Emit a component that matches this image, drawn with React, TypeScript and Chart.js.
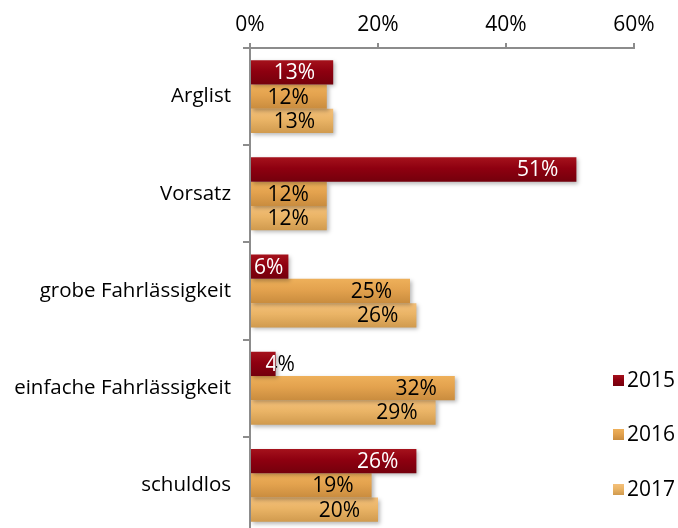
import React, { useEffect, useRef } from "react";
import { Chart, registerables } from "chart.js";

Chart.register(...registerables);

const categories = ["Arglist", "Vorsatz", "grobe Fahrlässigkeit", "einfache Fahrlässigkeit", "schuldlos"];
const seriesNames = ["2015", "2016", "2017"];
const values2015 = [13, 51, 6, 4, 26];
const values2016 = [12, 12, 25, 32, 19];
const values2017 = [13, 12, 26, 29, 20];
const xTicks = [0, 20, 40, 60];

const FONT = "'Open Sans', 'Noto Sans', sans-serif";
const FS = 21;
const CAT_FS = 20.5;
const CAT_PCT = 0.75;

// [top, middle, bottom] colours of each series' gradient
const gradColors = [
  ["#a5121c", "#8e0010", "#74000c"],
  ["#eeb05a", "#e3a24e", "#c98c3e"],
  ["#f4c07a", "#eab466", "#d09a4e"],
];

function barGradient(ctx: CanvasRenderingContext2D, top: number, bottom: number, d: number) {
  const g = ctx.createLinearGradient(0, top, 0, bottom);
  g.addColorStop(0, gradColors[d][0]);
  g.addColorStop(0.45, gradColors[d][1]);
  g.addColorStop(1, gradColors[d][2]);
  return g;
}

const shadowPlugin = {
  id: "shadow",
  beforeDatasetsDraw(chart: any) {
    const c = chart.ctx;
    c.save();
    c.shadowColor = "rgba(0,0,0,0.28)";
    c.shadowBlur = 4;
    c.shadowOffsetX = 2;
    c.shadowOffsetY = 2;
  },
  afterDatasetsDraw(chart: any) {
    chart.ctx.restore();
  },
};

const labelPlugin = {
  id: "barLabels",
  afterDatasetsDraw(chart: any) {
    const c: CanvasRenderingContext2D = chart.ctx;
    const area = chart.chartArea;
    c.save();
    c.font = `${FS}px ${FONT}`;
    c.textBaseline = "middle";
    c.textAlign = "left";
    chart.data.datasets.forEach((ds: any, d: number) => {
      const meta = chart.getDatasetMeta(d);
      meta.data.forEach((bar: any, i: number) => {
        const text = ds.data[i] + "%";
        const w = c.measureText(text).width;
        const end = bar.x;
        const start = bar.base;
        const len = end - start;
        let left: number;
        if (w + 6 > len) left = end - 10;
        else left = Math.max(start + 3, end - 18 - w);
        const y = bar.y + 1;
        const top = bar.y - bar.height / 2;
        const h = bar.height;
        if (d === 0) {
          // white inside the bar, black outside
          c.save();
          c.beginPath();
          c.rect(start, top, len, h);
          c.clip();
          c.fillStyle = "#ffffff";
          c.fillText(text, left, y);
          c.restore();
          c.save();
          c.beginPath();
          c.rect(end, top - 5, area.right + 50 - end, h + 10);
          c.clip();
          c.fillStyle = "#000000";
          c.fillText(text, left, y);
          c.restore();
        } else {
          c.fillStyle = "#000000";
          c.fillText(text, left, y);
        }
      });
    });
    c.restore();
  },
};

const legendPlugin = {
  id: "sideLegend",
  afterDraw(chart: any) {
    const c: CanvasRenderingContext2D = chart.ctx;
    const ys = [380, 434, 489];
    c.save();
    c.font = `${FS}px ${FONT}`;
    c.textBaseline = "middle";
    c.textAlign = "left";
    seriesNames.forEach((name, d) => {
      const y = ys[d];
      c.fillStyle = barGradient(c, y - 5, y + 6, d);
      c.fillRect(613, y - 5, 11, 11);
      c.fillStyle = "#000";
      c.fillText(name, 627, y + 1);
    });
    c.restore();
  },
};

export default function App() {
  const ref = useRef<HTMLCanvasElement>(null);
  useEffect(() => {
    document.body.style.margin = "0";
    const canvas = ref.current!;
    const bg = (d: number) => (ctx: any) => {
      const chart = ctx.chart;
      const ys = chart.scales.y;
      const area = chart.chartArea;
      if (!ys || !area) return gradColors[d][1];
      const cat = (area.bottom - area.top) / categories.length;
      const th = (cat * CAT_PCT) / 3;
      const c = ys.getPixelForValue(ctx.dataIndex);
      const top = c - (cat * CAT_PCT) / 2 + d * th;
      return barGradient(chart.ctx, top, top + th, d);
    };
    const chart = new Chart(canvas, {
      type: "bar",
      data: {
        labels: categories,
        datasets: [
          { label: seriesNames[0], data: values2015, backgroundColor: bg(0) },
          { label: seriesNames[1], data: values2016, backgroundColor: bg(1) },
          { label: seriesNames[2], data: values2017, backgroundColor: bg(2) },
        ],
      },
      options: {
        indexAxis: "y",
        responsive: false,
        animation: false,
        datasets: { bar: { categoryPercentage: CAT_PCT, barPercentage: 1 } },
        layout: { padding: { top: 0, right: 44, bottom: 2, left: 0 } },
        plugins: { legend: { display: false }, tooltip: { enabled: false } },
        scales: {
          x: {
            position: "top",
            min: 0,
            max: 60,
            afterBuildTicks: (s: any) => {
              s.ticks = xTicks.map((v) => ({ value: v }));
            },
            afterFit: (s: any) => {
              s.height = 48;
              s.paddingLeft = 0;
              s.paddingRight = 0;
            },
            ticks: {
              callback: (v: any) => v + "%",
              font: { family: FONT, size: FS },
              color: "#000",
              padding: 5,
            },
            grid: { drawOnChartArea: false, drawTicks: true, tickLength: 5, color: "#8c8c8c", lineWidth: 2 },
            border: { color: "#8c8c8c", width: 2 },
          },
          y: {
            afterFit: (s: any) => {
              s.width = 250;
              s.paddingTop = 0;
              s.paddingBottom = 0;
            },
            ticks: {
              font: { family: FONT, size: CAT_FS },
              color: "#000",
              padding: 12,
            },
            grid: { drawOnChartArea: false, drawTicks: true, tickLength: 7, color: "#8c8c8c", lineWidth: 2, offset: true },
            border: { color: "#8c8c8c", width: 2 },
          },
        },
      },
      plugins: [shadowPlugin, labelPlugin, legendPlugin],
    } as any);
    return () => chart.destroy();
  }, []);
  return (
    <div style={{ position: "fixed", left: 0, top: 0, width: 678, height: 528, overflow: "hidden", background: "#fff" }}>
      <canvas ref={ref} width={678} height={536} style={{ display: "block" }} />
    </div>
  );
}
